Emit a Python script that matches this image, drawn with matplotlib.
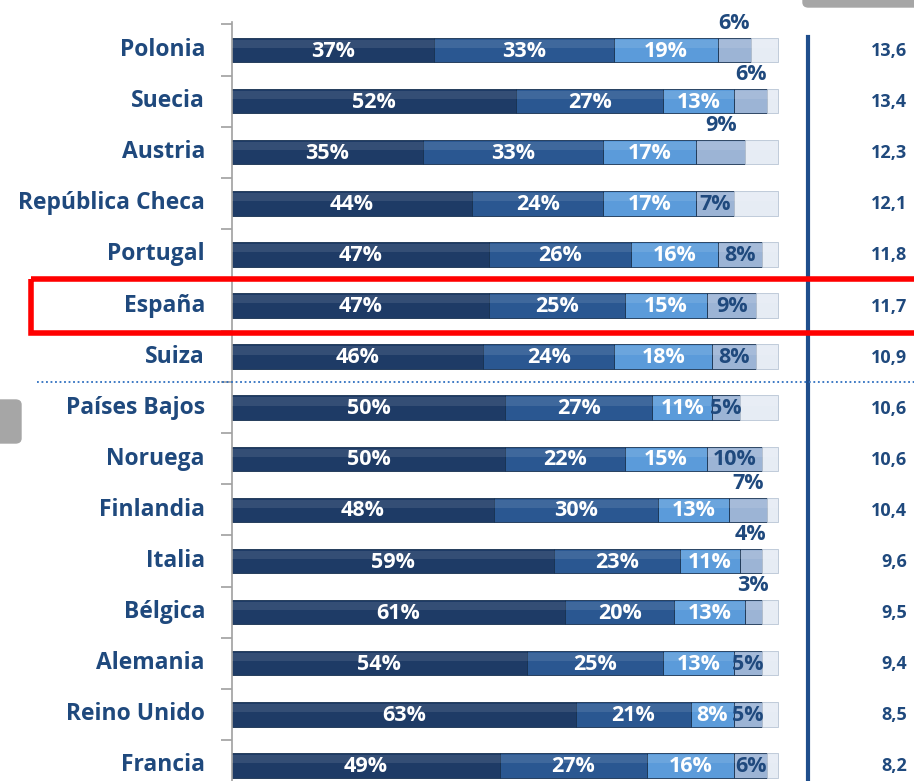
import matplotlib.pyplot as plt
from matplotlib.patches import Rectangle, FancyBboxPatch

plt.rcParams['font.family'] = ['Open Sans', 'DejaVu Sans']

paises = ["Polonia", "Suecia", "Austria", "República Checa", "Portugal", "España", "Suiza",
          "Países Bajos", "Noruega", "Finlandia", "Italia", "Bélgica", "Alemania",
          "Reino Unido", "Francia"]
s1 = [37, 52, 35, 44, 47, 47, 46, 50, 50, 48, 59, 61, 54, 63, 49]
s2 = [33, 27, 33, 24, 26, 25, 24, 27, 22, 30, 23, 20, 25, 21, 27]
s3 = [19, 13, 17, 17, 16, 15, 18, 11, 15, 13, 11, 13, 13, 8, 16]
s4 = [6, 6, 9, 7, 8, 9, 8, 5, 10, 7, 4, 3, 5, 5, 6]
arriba = ["Polonia", "Suecia", "Austria", "Finlandia", "Italia", "Bélgica"]
valores = ["13,6", "13,4", "12,3", "12,1", "11,8", "11,7", "10,9", "10,6", "10,6",
           "10,4", "9,6", "9,5", "9,4", "8,5", "8,2"]

azul = "#1F497D"
colores = ["#1E3B66", "#2A5791", "#5B9BDA", "#9CB4D5", "#E6ECF4"]

W, H = 914, 781
fig = plt.figure(figsize=(W / 100, H / 100), dpi=100)
ax = fig.add_axes([232 / W, 0, (W - 232) / W, 1])
px = 5.46          # pixels per percent
row = 51.1         # pixels per row
ax.set_xlim(0, (W - 232) / px)
ax.set_ylim((H - 50) / row, -50 / row)

n = len(paises)
y = list(range(n))
resto = [100 - a - b - c - d for a, b, c, d in zip(s1, s2, s3, s4)]
izq = [0] * n
for k, serie in enumerate([s1, s2, s3, s4, resto]):
    ax.barh(y, serie, left=izq, height=0.48, color=colores[k],
            edgecolor="#B8C4D4" if k == 4 else "#16304F", linewidth=0.6, zorder=2)
    # brillo superior
    ax.barh([v - 0.12 for v in y], serie, left=izq, height=0.16, color="white",
            alpha=0.10, linewidth=0, zorder=3)
    for i in range(n):
        cx = izq[i] + serie[i] / 2
        if k < 3:
            ax.text(cx, i + 0.02, f"{serie[i]}%", color="white", fontsize=15.5,
                    fontweight="bold", ha="center", va="center", zorder=5)
        elif k == 3:
            if paises[i] in arriba:
                ax.text(cx, i - 0.52, f"{serie[i]}%", color=azul, fontsize=15.5,
                        fontweight="bold", ha="center", va="center", zorder=5)
            else:
                ax.text(cx, i + 0.02, f"{serie[i]}%", color=azul, fontsize=15.5,
                        fontweight="bold", ha="center", va="center", zorder=5)
    izq = [a + b for a, b in zip(izq, serie)]

# nombres de paises y valores
for i in range(n):
    ax.text(-27 / px, i, paises[i], color=azul, fontsize=16.5, fontweight="bold",
            ha="right", va="center", clip_on=False)
    ax.text((907 - 232) / px, i + 0.02, valores[i], color=azul, fontsize=13,
            fontweight="bold", ha="right", va="center")

# eje
for s in ["top", "right", "bottom"]:
    ax.spines[s].set_visible(False)
ax.spines["left"].set_color("#A0A0A0")
ax.spines["left"].set_linewidth(1.2)
ax.spines["left"].set_bounds(-0.55, (H - 50) / row)
ax.set_yticks([i - 0.5 for i in range(n)])
ax.set_yticklabels([])
ax.tick_params(axis="y", length=8, color="#A0A0A0", width=1.2)
ax.set_xticks([])

# linea vertical derecha
ax.plot([(808 - 232) / px] * 2, [-0.25, (H - 50) / row], color="#1F4E8C", lw=3, zorder=4)
# linea punteada
ax.plot([(37 - 232) / px, (W - 232) / px], [6.5, 6.5], color="#2E6FC0", lw=1.3,
        ls=(0, (1, 1.5)), clip_on=False, zorder=4)
# recuadro España
ax.add_patch(Rectangle(((31 - 232) / px, 5 - 0.52), (W + 20 - 31) / px, 1.05,
                       fill=False, edgecolor="#FF0000", lw=4, clip_on=False, zorder=6))

# cajas grises
fig.patches.append(FancyBboxPatch((803 / W, 1 - 7 / H), 140 / W, 20 / H,
                                  boxstyle="round,pad=0,rounding_size=0.006",
                                  transform=fig.transFigure, color="#A6A6A6"))
fig.patches.append(FancyBboxPatch((-10 / W, 1 - 443 / H), 31 / W, 43 / H,
                                  boxstyle="round,pad=0,rounding_size=0.006",
                                  transform=fig.transFigure, color="#A6A6A6"))

fig.savefig("out.png", dpi=100)
